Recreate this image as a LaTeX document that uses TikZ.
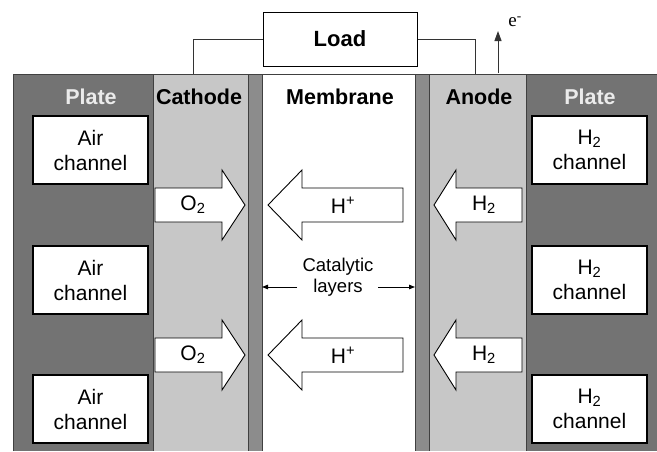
\documentclass[tikz,border=0pt]{standalone}
\usepackage{fontspec}
\setmainfont{Liberation Sans}
\newfontfamily\seriffont{Liberation Serif}
\usetikzlibrary{arrows.meta}
\definecolor{plategray}{gray}{0.45}
\definecolor{electrodegray}{gray}{0.78}
\definecolor{catgray}{gray}{0.55}
\definecolor{edgegray}{gray}{0.25}
\begin{document}
\begin{tikzpicture}[x=1pt,y=-1pt,
  header/.style={font=\fontsize{21.5}{24}\selectfont\bfseries, inner sep=0pt},
  chanbox/.style={draw=black, line width=1.3pt, fill=white, minimum width=115pt, minimum height=68pt, align=center, font=\fontsize{21}{25}\selectfont, inner sep=0pt},
  blockarrow/.style={draw=black, line width=0.9pt, fill=white, line join=miter},
  arrowlabel/.style={font=\fontsize{21}{25}\selectfont, inner sep=0pt},
  wire/.style={draw=black!80, line width=1pt},
  layerline/.style={draw=edgegray, line width=1pt},
  catlabel/.style={font=\fontsize{18.5}{21}\selectfont, align=center, inner sep=0pt},
  pointer/.style={line width=0.9pt, -{Triangle[length=6pt,width=4.5pt]}}
]
\useasboundingbox (0,0) rectangle (657,451);
% regions
\fill[plategray] (13,74) rectangle (657,451);
\fill[electrodegray] (153,74) rectangle (248,451);
\fill[catgray] (248,74) rectangle (262,451);
\fill[white] (262,74) rectangle (415,451);
\fill[catgray] (415,74) rectangle (429,451);
\fill[electrodegray] (429,74) rectangle (526,451);
\draw[layerline] (13,451) -- (13,74) -- (657,74);
\foreach \xx in {153,248,262,415,429,526} \draw[layerline] (\xx,74) -- (\xx,451);
% load and wires
\node[draw=black, line width=1pt, fill=white, minimum width=154pt, minimum height=54pt, inner sep=0pt, font=\fontsize{22}{24}\selectfont\bfseries] (load) at (340,39) {Load};
\coordinate (wl) at (193,74);
\coordinate (wr) at (475,74);
\draw[wire] (load.west) -| (wl);
\draw[wire] (load.east) -| (wr);
\coordinate (ebase) at (498,73);
\coordinate (etip) at (498,31);
\draw[draw=black!80, line width=1pt, -{Triangle[length=10pt,width=7pt]}] (ebase) -- (etip);
\node[font=\seriffont\fontsize{19}{22}\selectfont, inner sep=0pt] (elabel) at (515,22) {e\textsuperscript{-}};
% headers
\node[header, text=white!92!black] (plateL) at (91,97) {Plate};
\node[header] (cathode) at (199,97) {Cathode};
\node[header] (membrane) at (340,97) {Membrane};
\node[header] (anode) at (479,97) {Anode};
\node[header, text=white!92!black] (plateR) at (590,97) {Plate};
% channels
\node[chanbox] (air1) at (90.5,150) {Air\\channel};
\node[chanbox] (air2) at (90.5,280) {Air\\channel};
\node[chanbox] (air3) at (90.5,409) {Air\\channel};
\node[chanbox] (hch1) at (589.5,150) {H\textsubscript{2}\\channel};
\node[chanbox] (hch2) at (589.5,280) {H\textsubscript{2}\\channel};
\node[chanbox] (hch3) at (589.5,409) {H\textsubscript{2}\\channel};
% block arrows
\foreach \cy/\nm in {205/1,355/2}{
  \draw[blockarrow] (155,\cy-17) -- (222,\cy-17) -- (222,\cy-35) -- (245,\cy) -- (222,\cy+35) -- (222,\cy+17) -- (155,\cy+17) -- cycle;
  \draw[blockarrow] (403,\cy-17) -- (302,\cy-17) -- (302,\cy-35) -- (268,\cy) -- (302,\cy+35) -- (302,\cy+17) -- (403,\cy+17) -- cycle;
  \draw[blockarrow] (522,\cy-17) -- (456,\cy-17) -- (456,\cy-35) -- (434,\cy) -- (456,\cy+35) -- (456,\cy+17) -- (522,\cy+17) -- cycle;
  \node[arrowlabel] (oxy\nm) at (193,\cy) {O\textsubscript{2}};
  \node[arrowlabel] (proton\nm) at (343,\cy) {H\textsuperscript{+}};
  \node[arrowlabel] (hyd\nm) at (484,\cy) {H\textsubscript{2}};
}
% catalytic layers label
\node[catlabel] (catal) at (338,277) {Catalytic\\layers};
\coordinate (catLs) at (297,287);
\coordinate (catRs) at (378,287);
\coordinate (catL) at (262,287);
\coordinate (catR) at (415,287);
\draw[pointer] (catLs) -- (catL);
\draw[pointer] (catRs) -- (catR);
\end{tikzpicture}
\end{document}
